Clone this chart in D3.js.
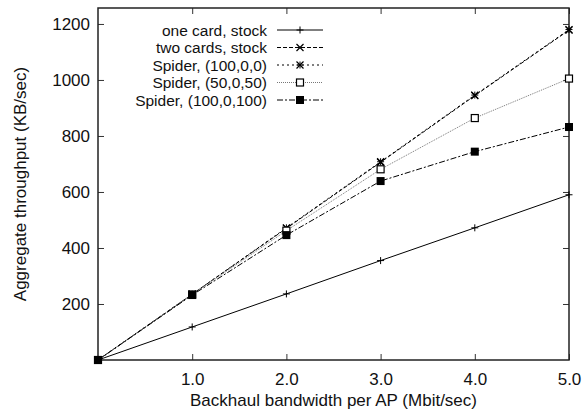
<!DOCTYPE html>
<html>
<head>
<meta charset="utf-8">
<script src="https://cdn.jsdelivr.net/npm/d3@7"></script>
<style>
body { margin: 0; background: #fff; }
svg { display: block; font-family: "Liberation Sans", Arial, sans-serif; }
</style>
</head>
<body>
<svg id="chart" width="583" height="412"></svg>
<script>
// data
var bandwidth = [0, 1, 2, 3, 4, 5];
var oneCard   = [0, 118, 236, 355, 472, 590];
var twoCards  = [0, 235, 470, 706, 944, 1178];
var spider100 = [0, 235, 472, 708, 946, 1180];
var spider50  = [0, 234, 462, 681, 864, 1005];
var spider100100 = [0, 232, 446, 639, 744, 832];
var xTicks = [1, 2, 3, 4, 5];
var yTicks = [200, 400, 600, 800, 1000, 1200];

var series = [
  {name: "one card, stock", vals: oneCard, dash: null, col: "#000", mark: "plus"},
  {name: "two cards, stock", vals: twoCards, dash: "4,2", col: "#000", mark: "cross"},
  {name: "Spider, (100,0,0)", vals: spider100, dash: "2,3", col: "#000", mark: "star"},
  {name: "Spider, (50,0,50)", vals: spider50, dash: "1,1", col: "#777", mark: "box"},
  {name: "Spider, (100,0,100)", vals: spider100100, dash: "6,2,2,2", col: "#000", mark: "fbox"}
];

var svg = d3.select("#chart"),
    margin = {top: 8, right: 14, bottom: 52, left: 98},
    width = 583 - margin.left - margin.right,
    height = 412 - margin.top - margin.bottom,
    fs = 17;

var x = d3.scaleLinear().domain([0, 5]).range([0, width]);
var y = d3.scaleLinear().domain([0, 1257]).range([height, 0]);

var g = svg.append("g").attr("transform", "translate(" + margin.left + "," + margin.top + ")");

// inward ticks on all four sides
var tk = 6;
g.append("g").attr("transform", "translate(0," + height + ")")
  .call(d3.axisBottom(x).tickValues(xTicks).tickFormat(d3.format(".1f")).tickSizeInner(-tk).tickSizeOuter(0).tickPadding(13));
g.append("g")
  .call(d3.axisTop(x).tickValues(xTicks).tickFormat("").tickSizeInner(-tk).tickSizeOuter(0));
g.append("g")
  .call(d3.axisLeft(y).tickValues(yTicks).tickFormat(d3.format("d")).tickSizeInner(-tk).tickSizeOuter(0).tickPadding(8));
g.append("g").attr("transform", "translate(" + width + ",0)")
  .call(d3.axisRight(y).tickValues(yTicks).tickFormat("").tickSizeInner(-tk).tickSizeOuter(0));
g.selectAll(".domain").remove();
g.selectAll(".tick line").attr("stroke", "#333");
g.selectAll(".tick text").attr("font-size", fs).attr("fill", "#111")
  .attr("font-family", "Liberation Sans, Arial, sans-serif");

g.append("rect").attr("width", width).attr("height", height)
  .attr("fill", "none").attr("stroke", "#222").attr("stroke-width", 1.5);

function marker(sel, kind, cx, cy) {
  var s = 3.5;
  if (kind == "plus" || kind == "star") {
    sel.append("path").attr("d", "M" + (cx - s) + "," + cy + "h" + 2 * s + "M" + cx + "," + (cy - s) + "v" + 2 * s)
      .attr("stroke", "#000").attr("stroke-width", 1);
  }
  if (kind == "cross" || kind == "star") {
    sel.append("path").attr("d", "M" + (cx - s) + "," + (cy - s) + "l" + 2 * s + "," + 2 * s + "M" + (cx - s) + "," + (cy + s) + "l" + 2 * s + "," + (-2 * s))
      .attr("stroke", "#000").attr("stroke-width", 1.2);
  }
  if (kind == "box") {
    sel.append("rect").attr("x", cx - 3.5).attr("y", cy - 3.5).attr("width", 7).attr("height", 7)
      .attr("fill", "#fff").attr("stroke", "#000").attr("stroke-width", 1.2);
  }
  if (kind == "fbox") {
    sel.append("rect").attr("x", cx - 4).attr("y", cy - 4).attr("width", 8).attr("height", 8).attr("fill", "#000");
  }
}

var line = d3.line().x(function(d, i) { return x(bandwidth[i]); }).y(function(d) { return y(d); });

for (var j = 0; j < series.length; j++) {
  var s = series[j];
  g.append("path").datum(s.vals).attr("d", line)
    .attr("fill", "none").attr("stroke", s.col).attr("stroke-width", 1)
    .attr("stroke-dasharray", s.dash);
  for (var i = 0; i < s.vals.length; i++) {
    marker(g, s.mark, x(bandwidth[i]), y(s.vals[i]));
  }
}

// legend (rows are tight, slightly smaller font so they don't collide)
var lg = svg.append("g");
for (var k = 0; k < series.length; k++) {
  var ly = 30 + k * 17.5;
  lg.append("text").attr("x", 267).attr("y", ly + 5.5).attr("text-anchor", "end")
    .attr("font-size", 15.5).attr("fill", "#111").text(series[k].name);
  lg.append("line").attr("x1", 277).attr("x2", 323).attr("y1", ly).attr("y2", ly)
    .attr("stroke", series[k].col).attr("stroke-width", 1).attr("stroke-dasharray", series[k].dash);
  marker(lg, series[k].mark, 300, ly);
}

// axis titles
svg.append("text").attr("x", margin.left + width / 2).attr("y", 406).attr("text-anchor", "middle")
  .attr("font-size", fs).attr("fill", "#111").text("Backhaul bandwidth per AP (Mbit/sec)");
svg.append("text").attr("transform", "translate(26," + (margin.top + height / 2) + ") rotate(-90)")
  .attr("text-anchor", "middle").attr("font-size", fs).attr("fill", "#111")
  .text("Aggregate throughput (KB/sec)");
</script>
</body>
</html>
